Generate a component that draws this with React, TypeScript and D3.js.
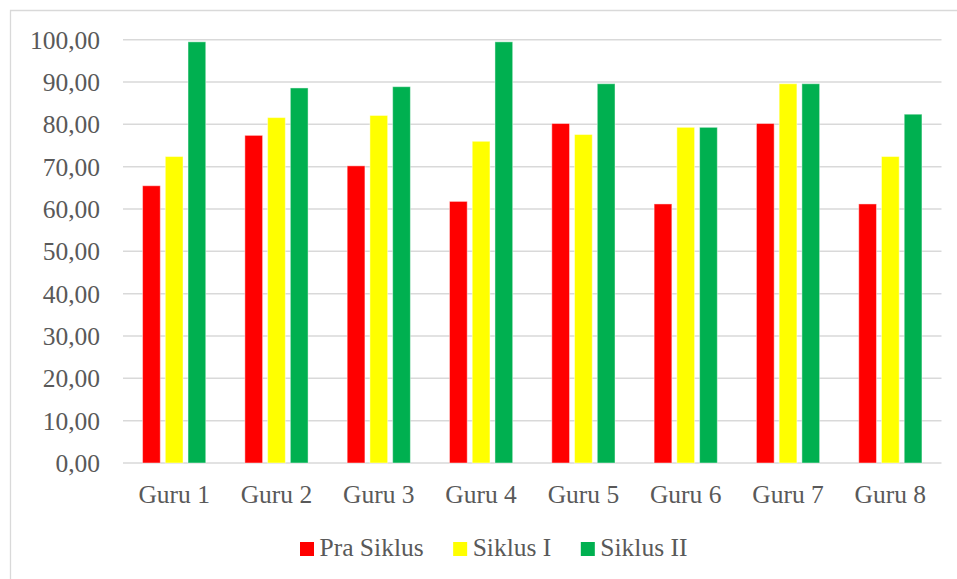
import React, { useEffect, useRef } from "react";
import * as d3 from "d3";

const categories = ["Guru 1", "Guru 2", "Guru 3", "Guru 4", "Guru 5", "Guru 6", "Guru 7", "Guru 8"];
const seriesNames = ["Pra Siklus", "Siklus I", "Siklus II"];
const praSiklus = [65.5, 77.4, 70.2, 61.8, 80.2, 61.2, 80.2, 61.2];
const siklusI = [72.4, 81.6, 82.1, 76.0, 77.6, 79.3, 89.6, 72.4];
const siklusII = [99.5, 88.6, 88.9, 99.5, 89.6, 79.3, 89.6, 82.4];
const yTicks = [0, 10, 20, 30, 40, 50, 60, 70, 80, 90, 100];

const seriesColors = ["#FF0000", "#FFFF00", "#00B050"];

const W = 957;
const H = 579;
const FONT = "'Liberation Serif', 'Times New Roman', serif";
const TEXT = "#595959";

export default function App() {
  const svgRef = useRef<SVGSVGElement | null>(null);

  useEffect(() => {
    document.body.style.margin = "0";
    const svg = d3.select(svgRef.current);
    svg.selectAll("*").remove();

    const plot = { left: 123, right: 941.5, top: 39.7, bottom: 463 };

    // chart frame (only top/left visible in the crop)
    svg.append("rect").attr("width", W).attr("height", H).attr("fill", "#fff");
    svg.append("path")
      .attr("d", `M10.5,${H + 2}V10.5H${W + 2}`)
      .attr("fill", "none")
      .attr("stroke", "#d9d9d9")
      .attr("stroke-width", 1.3);

    const y = d3.scaleLinear().domain([0, 100]).range([plot.bottom, plot.top]);
    const x0 = d3.scaleBand<string>().domain(categories).range([plot.left, plot.right]);
    const x1 = d3.scaleBand<string>()
      .domain(seriesNames)
      .range([0, x0.bandwidth()])
      .paddingInner(0.22)
      .paddingOuter(0.86);

    // gridlines
    svg.append("g")
      .selectAll("line")
      .data(yTicks)
      .enter()
      .append("line")
      .attr("x1", plot.left)
      .attr("x2", plot.right)
      .attr("y1", (d) => y(d))
      .attr("y2", (d) => y(d))
      .attr("stroke", "#d9d9d9")
      .attr("stroke-width", 1.5);

    // y labels
    svg.append("g")
      .selectAll("text")
      .data(yTicks)
      .enter()
      .append("text")
      .attr("x", 100)
      .attr("y", (d) => y(d))
      .attr("dy", "0.35em")
      .attr("text-anchor", "end")
      .style("font-family", FONT)
      .style("font-size", "25.5px")
      .style("fill", TEXT)
      .text((d) => d.toFixed(2).replace(".", ","));

    // bars
    const allSeries = [praSiklus, siklusI, siklusII];
    const bars = categories.flatMap((c, i) =>
      seriesNames.map((s, j) => ({ cat: c, series: s, value: allSeries[j][i], color: seriesColors[j] }))
    );
    svg.append("g")
      .selectAll("rect")
      .data(bars)
      .enter()
      .append("rect")
      .attr("x", (d) => x0(d.cat)! + x1(d.series)!)
      .attr("width", x1.bandwidth())
      .attr("y", (d) => y(d.value))
      .attr("height", (d) => y(0) - y(d.value))
      .attr("fill", (d) => d.color)
      .attr("stroke", "#fff")
      .attr("stroke-opacity", 0.45)
      .attr("stroke-width", 1);

    // category labels
    svg.append("g")
      .selectAll("text")
      .data(categories)
      .enter()
      .append("text")
      .attr("x", (d) => x0(d)! + x0.bandwidth() / 2)
      .attr("y", 503)
      .attr("text-anchor", "middle")
      .style("font-family", FONT)
      .style("font-size", "25.5px")
      .style("fill", TEXT)
      .text((d) => d);

    // legend
    const legend = svg.append("g");
    let lx = 300;
    seriesNames.forEach((name, j) => {
      legend.append("rect")
        .attr("x", lx)
        .attr("y", 542)
        .attr("width", 14)
        .attr("height", 14)
        .attr("fill", seriesColors[j]);
      const t = legend.append("text")
        .attr("x", lx + 19.5)
        .attr("y", 556)
        .style("font-family", FONT)
        .style("font-size", "25.5px")
        .style("fill", TEXT)
        .text(name);
      const w = (t.node() as SVGTextElement).getComputedTextLength();
      lx = lx + 19.5 + w + 29.5;
    });
  }, []);

  return <svg ref={svgRef} width={W} height={H} style={{ display: "block" }}></svg>;
}
